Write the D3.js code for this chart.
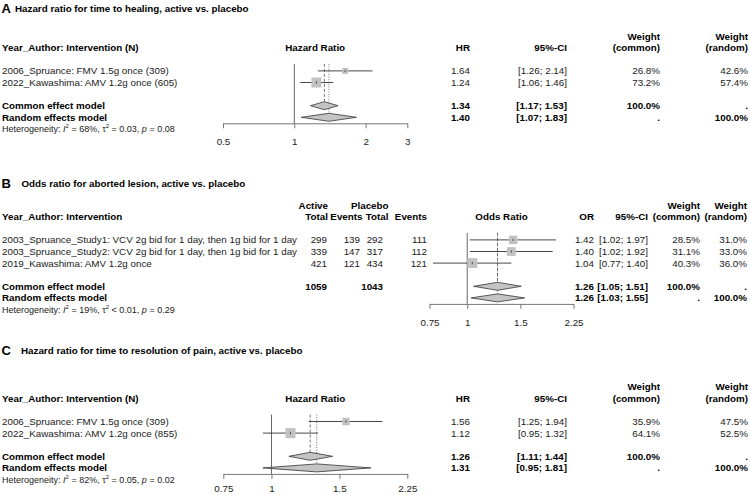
<html>
<head>
  <meta charset="utf-8">
  <script src="https://d3js.org/d3.v7.min.js"></script>
  <style>
    body { margin: 0; background: #fff; }
    text {
      font-family: "Liberation Sans", Arial, Helvetica, sans-serif;
      font-size: 9.8px;
      fill: #1a1a1a;
      dominant-baseline: central;
    }
    text.bold { font-weight: bold; fill: #000; }
    text.letter { font-size: 13px; }
    text.het { font-size: 9px; }
  </style>
</head>
<body>
  <svg id="forest" width="750" height="496"></svg>
  <script>
    // ---- panel A: time to healing ----
    const labelsA = ["2006_Spruance: FMV 1.5g once (309)", "2022_Kawashima: AMV 1.2g once (605)"];
    const hrA = [1.64, 1.24];
    const lowerA = [1.26, 1.06];
    const upperA = [2.14, 1.46];
    const weightCommonA = [26.8, 73.2];
    const weightRandomA = [42.6, 57.4];
    const commonA = [1.34, 1.17, 1.53];
    const randomA = [1.40, 1.07, 1.83];
    const hetA = ["68%", "= 0.03", "0.08"];
    const ticksA = [0.5, 1, 2, 3];

    // ---- panel B: aborted lesion ----
    const labelsB = [
      "2003_Spruance_Study1: VCV 2g bid for 1 day, then 1g bid for 1 day",
      "2003_Spruance_Study2: VCV 2g bid for 1 day, then 1g bid for 1 day",
      "2019_Kawashima: AMV 1.2g once"
    ];
    const activeTotalB = [299, 339, 421];
    const eventsB = [139, 147, 121];
    const placeboTotalB = [292, 317, 434];
    const placeboEventsB = [111, 112, 121];
    const sumActiveB = 1059;
    const sumPlaceboB = 1043;
    const orB = [1.42, 1.40, 1.04];
    const lowerB = [1.02, 1.02, 0.77];
    const upperB = [1.97, 1.92, 1.40];
    const weightCommonB = [28.5, 31.1, 40.3];
    const weightRandomB = [31.0, 33.0, 36.0];
    const commonB = [1.26, 1.05, 1.51];
    const randomB = [1.26, 1.03, 1.55];
    const hetB = ["19%", "< 0.01", "0.29"];
    const ticksB = [0.75, 1, 1.5, 2.25];

    // ---- panel C: resolution of pain ----
    const labelsC = ["2006_Spruance: FMV 1.5g once (309)", "2022_Kawashima: AMV 1.2g once (855)"];
    const hrC = [1.56, 1.12];
    const lowerC = [1.25, 0.95];
    const upperC = [1.94, 1.32];
    const weightCommonC = [35.9, 64.1];
    const weightRandomC = [47.5, 52.5];
    const commonC = [1.26, 1.11, 1.44];
    const randomC = [1.31, 0.95, 1.81];
    const hetC = ["82%", "= 0.05", "0.02"];
    const ticksC = [0.75, 1, 1.5, 2.25];

    const svg = d3.select("svg#forest");
    const f2 = d3.format(".2f");
    const f1 = d3.format(".1f");
    const rowH = 11.6;

    function drawPanel(p, d) {
      const g = svg.append("g");
      const n = d.labels.length;
      const rowY = i => p.y0 + (2 + i) * rowH;
      const commonY = p.y0 + (3 + n) * rowH;
      const randomY = commonY + rowH;
      const hetY = randomY + rowH;
      const axisY = randomY + 6;
      const x = d3.scaleLog().domain(p.domain).range(p.range);
      const wMax = d3.max(d.wCommon);

      // title
      g.append("text").attr("class", "bold letter").attr("x", 1.5).attr("y", p.titleY).text(p.letter);
      g.append("text").attr("class", "bold").attr("x", p.titleX).attr("y", p.titleY).text(p.title);

      // headers
      g.append("text").attr("class", "bold").attr("x", 2).attr("y", p.y0).text(p.leftHeader);
      g.append("text").attr("class", "bold").attr("x", (p.range[0] + p.range[1]) / 2).attr("y", p.y0)
        .attr("text-anchor", "middle").text(p.effectLabel);
      g.append("text").attr("class", "bold").attr("x", p.cols.est).attr("y", p.y0).attr("text-anchor", "end").text(p.estLabel);
      g.append("text").attr("class", "bold").attr("x", p.cols.ci).attr("y", p.y0).attr("text-anchor", "end").text("95%-CI");
      [["wc", "(common)"], ["wr", "(random)"]].forEach(([k, lab]) => {
        g.append("text").attr("class", "bold").attr("x", p.cols[k]).attr("y", p.y0 - rowH).attr("text-anchor", "end").text("Weight");
        g.append("text").attr("class", "bold").attr("x", p.cols[k]).attr("y", p.y0).attr("text-anchor", "end").text(lab);
      });

      // extra count columns (panel B)
      (p.extra || []).forEach(c => {
        if (c.top) {
          g.append("text").attr("class", "bold").attr("x", c.hx).attr("y", p.y0 - rowH)
            .attr("text-anchor", "end").text(c.top);
        }
        g.append("text").attr("class", "bold").attr("x", c.hx).attr("y", p.y0).attr("text-anchor", "end").text(c.header);
        c.values.forEach((v, i) => {
          g.append("text").attr("x", c.x).attr("y", rowY(i)).attr("text-anchor", "end").text(v);
        });
        if (c.total != null) {
          g.append("text").attr("class", "bold").attr("x", c.x).attr("y", commonY).attr("text-anchor", "end").text(c.total);
        }
      });

      // study rows text
      d.labels.forEach((lab, i) => {
        const y = rowY(i);
        g.append("text").attr("x", 2).attr("y", y).text(lab);
        g.append("text").attr("x", p.cols.est).attr("y", y).attr("text-anchor", "end").text(f2(d.est[i]));
        g.append("text").attr("x", p.cols.ci).attr("y", y).attr("text-anchor", "end").text(`[${f2(d.lower[i])}; ${f2(d.upper[i])}]`);
        g.append("text").attr("x", p.cols.wc).attr("y", y).attr("text-anchor", "end").text(f1(d.wCommon[i]) + "%");
        g.append("text").attr("x", p.cols.wr).attr("y", y).attr("text-anchor", "end").text(f1(d.wRandom[i]) + "%");
      });

      // summary rows text
      [["Common effect model", d.common, commonY, "100.0%", "."],
       ["Random effects model", d.random, randomY, ".", "100.0%"]].forEach(([lab, s, y, wc, wr]) => {
        g.append("text").attr("class", "bold").attr("x", 2).attr("y", y).text(lab);
        g.append("text").attr("class", "bold").attr("x", p.cols.est).attr("y", y).attr("text-anchor", "end").text(f2(s[0]));
        g.append("text").attr("class", "bold").attr("x", p.cols.ci).attr("y", y).attr("text-anchor", "end").text(`[${f2(s[1])}; ${f2(s[2])}]`);
        g.append("text").attr("class", "bold").attr("x", p.cols.wc).attr("y", y).attr("text-anchor", "end").text(wc);
        g.append("text").attr("class", "bold").attr("x", p.cols.wr).attr("y", y).attr("text-anchor", "end").text(wr);
      });

      // heterogeneity
      const het = g.append("text").attr("class", "het").attr("x", 2).attr("y", hetY);
      het.append("tspan").text("Heterogeneity: ");
      het.append("tspan").style("font-style", "italic").text("I");
      het.append("tspan").attr("dy", -3).style("font-size", "6px").text("2");
      het.append("tspan").attr("dy", 3).text(` = ${d.het[0]}, \u03c4`);
      het.append("tspan").attr("dy", -3).style("font-size", "6px").text("2");
      het.append("tspan").attr("dy", 3).text(` ${d.het[1]}, `);
      het.append("tspan").style("font-style", "italic").text("p");
      het.append("tspan").text(` = ${d.het[2]}`);

      // reference and summary lines
      const topY = rowY(0) - 7;
      g.append("line").attr("x1", x(1)).attr("x2", x(1)).attr("y1", topY).attr("y2", axisY)
        .attr("stroke", "#666").attr("stroke-width", 1);
      g.append("line").attr("x1", x(d.common[0])).attr("x2", x(d.common[0])).attr("y1", topY).attr("y2", commonY - 4)
        .attr("stroke", "#555").attr("stroke-width", 0.8).attr("stroke-dasharray", "3,2");
      g.append("line").attr("x1", x(d.random[0])).attr("x2", x(d.random[0])).attr("y1", topY).attr("y2", randomY - 4)
        .attr("stroke", "#555").attr("stroke-width", 0.8).attr("stroke-dasharray", "1,1.5");

      // CIs and squares
      d.est.forEach((e, i) => {
        const y = rowY(i);
        const s = 10 * Math.sqrt(d.wCommon[i] / wMax);
        g.append("line").attr("x1", x(d.lower[i])).attr("x2", x(d.upper[i])).attr("y1", y).attr("y2", y)
          .attr("stroke", "#333").attr("stroke-width", 0.9);
        g.append("rect").attr("x", x(e) - s / 2).attr("y", y - s / 2).attr("width", s).attr("height", s)
          .attr("fill", "#c2c2c2");
        g.append("line").attr("x1", x(e)).attr("x2", x(e)).attr("y1", y - 1.2).attr("y2", y + 1.2)
          .attr("stroke", "#333").attr("stroke-width", 0.8);
      });

      // diamonds
      [[d.common, commonY], [d.random, randomY]].forEach(([s, y]) => {
        const pts = [[x(s[1]), y], [x(s[0]), y - 4], [x(s[2]), y], [x(s[0]), y + 4]];
        g.append("path").attr("d", "M" + pts.join("L") + "Z")
          .attr("fill", "#c4c4c4").attr("stroke", "#333").attr("stroke-width", 0.8);
      });

      // axis
      const axis = d3.axisBottom(x).tickValues(d.ticks).tickFormat(t => String(t)).tickSize(5).tickSizeOuter(0);
      const ag = g.append("g").attr("transform", `translate(0,${axisY})`).call(axis)
        .attr("font-size", null).attr("font-family", null);
      ag.selectAll("path, line").attr("stroke", "#777");
      ag.selectAll("text").attr("dy", null).attr("y", p.labelOffset).attr("fill", null);
    }

    drawPanel({
      letter: "A", title: "Hazard ratio for time to healing, active vs. placebo",
      titleX: 15, titleY: 8, y0: 47.7, labelOffset: 18.5,
      domain: [0.5, 3], range: [223, 407.3],
      leftHeader: "Year_Author: Intervention (N)", effectLabel: "Hazard Ratio", estLabel: "HR",
      cols: { est: 470, ci: 567, wc: 660, wr: 748 }
    }, {
      labels: labelsA, est: hrA, lower: lowerA, upper: upperA,
      wCommon: weightCommonA, wRandom: weightRandomA,
      common: commonA, random: randomA, het: hetA, ticks: ticksA
    });

    drawPanel({
      letter: "B", title: "Odds ratio for aborted lesion, active vs. placebo",
      titleX: 21.5, titleY: 183, y0: 216.7, labelOffset: 18.5,
      domain: [0.75, 2.25], range: [429.5, 573.5],
      leftHeader: "Year_Author: Intervention", effectLabel: "Odds Ratio", estLabel: "OR",
      cols: { est: 594, ci: 648, wc: 700, wr: 747 },
      extra: [
        { header: "Total", x: 327, hx: 328, values: activeTotalB, total: sumActiveB, top: "Active" },
        { header: "Events", x: 360, hx: 362.5, values: eventsB },
        { header: "Total", x: 383, hx: 388.5, values: placeboTotalB, total: sumPlaceboB, top: "Placebo" },
        { header: "Events", x: 427, hx: 427, values: placeboEventsB }
      ]
    }, {
      labels: labelsB, est: orB, lower: lowerB, upper: upperB,
      wCommon: weightCommonB, wRandom: weightRandomB,
      common: commonB, random: randomB, het: hetB, ticks: ticksB
    });

    drawPanel({
      letter: "C", title: "Hazard ratio for time to resolution of pain, active vs. placebo",
      titleX: 21, titleY: 350.5, y0: 398.3, labelOffset: 15,
      domain: [0.75, 2.25], range: [223.3, 407.3],
      leftHeader: "Year_Author: Intervention (N)", effectLabel: "Hazard Ratio", estLabel: "HR",
      cols: { est: 470, ci: 567, wc: 660, wr: 748 }
    }, {
      labels: labelsC, est: hrC, lower: lowerC, upper: upperC,
      wCommon: weightCommonC, wRandom: weightRandomC,
      common: commonC, random: randomC, het: hetC, ticks: ticksC
    });
  </script>
</body>
</html>
